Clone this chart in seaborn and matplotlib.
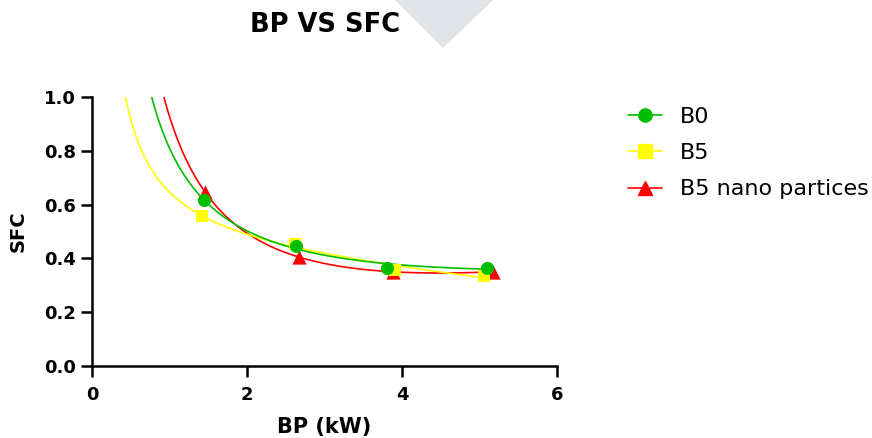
import matplotlib

matplotlib.use("Agg")
import matplotlib.pyplot as plt
import numpy as np
import pandas as pd
import seaborn as sns
from matplotlib.lines import Line2D
from matplotlib.patches import Polygon

# values
series_names = ["B0", "B5", "B5 nano partices"]
bp_b0 = [1.44, 2.63, 3.81, 5.10]
sfc_b0 = [0.617, 0.446, 0.366, 0.366]
bp_b5 = [1.42, 2.62, 3.91, 5.06]
sfc_b5 = [0.556, 0.454, 0.356, 0.336]
bp_nano = [1.46, 2.67, 3.89, 5.17]
sfc_nano = [0.646, 0.405, 0.350, 0.350]

COLORS = {"B0": "#00BE00", "B5": "#FFFF00", "B5 nano partices": "#FF0000"}
MARKERS = {"B0": "o", "B5": "s", "B5 nano partices": "^"}
SIZES = {"B0": 90, "B5": 85, "B5 nano partices": 105}
ZORDER = {"B0": 6, "B5": 5, "B5 nano partices": 4}


def fit_curve(x, y, x_new):
    # least squares fit y = a + b/x + c*x
    x = np.asarray(x)
    A = np.column_stack([np.ones_like(x), 1 / x, x])
    coef = np.linalg.lstsq(A, np.asarray(y), rcond=None)[0]
    return coef[0] + coef[1] / x_new + coef[2] * x_new


points = pd.concat(
    [
        pd.DataFrame({"BP": bp_b0, "SFC": sfc_b0, "fuel": "B0"}),
        pd.DataFrame({"BP": bp_b5, "SFC": sfc_b5, "fuel": "B5"}),
        pd.DataFrame({"BP": bp_nano, "SFC": sfc_nano, "fuel": "B5 nano partices"}),
    ],
    ignore_index=True,
)

sns.set_style("ticks", rc={"axes.edgecolor": "black", "xtick.color": "black",
                           "ytick.color": "black", "text.color": "black",
                           "axes.labelcolor": "black"})
plt.rcParams["font.family"] = ["DejaVu Sans"]

fig = plt.figure(figsize=(8.72, 4.38), dpi=100)
ax = fig.add_axes([92 / 872, 1 - 366 / 438, 465 / 872, 269 / 438])

for name in series_names:
    sub = points[points["fuel"] == name]
    xs = np.linspace(0.1, sub["BP"].max(), 400)
    curve = pd.DataFrame({"BP": xs, "SFC": fit_curve(sub["BP"], sub["SFC"], xs)})
    sns.lineplot(data=curve, x="BP", y="SFC", color=COLORS[name], linewidth=1.2,
                 ax=ax, zorder=ZORDER[name] - 3)
    sns.scatterplot(data=sub, x="BP", y="SFC", color=COLORS[name], marker=MARKERS[name],
                    s=SIZES[name], linewidth=0, ax=ax, zorder=ZORDER[name], clip_on=False)

ax.set_xlim(0, 6)
ax.set_ylim(0, 1.0)
ax.set_xticks([0, 2, 4, 6])
ax.set_yticks([0.0, 0.2, 0.4, 0.6, 0.8, 1.0])
ax.set_yticklabels([f"{v:.1f}" for v in ax.get_yticks()])
sns.despine(ax=ax)
for side in ["left", "bottom"]:
    ax.spines[side].set_linewidth(1.8)
ax.tick_params(axis="both", direction="out", length=8, width=1.8, labelsize=13,
               colors="black")
ax.tick_params(axis="y", pad=3.5)
ax.tick_params(axis="x", pad=6.5)
for lab in ax.get_xticklabels() + ax.get_yticklabels():
    lab.set_fontweight("bold")

ax.set_xlabel("BP (kW)", fontsize=15, fontweight="bold", color="black")
ax.set_ylabel("SFC", fontsize=14, fontweight="bold", color="black")
ax.xaxis.set_label_coords(0.5, -0.19)
ax.yaxis.set_label_coords(-0.138, 0.5)

fig.text(325.5 / 872, 1 - 32 / 438, "BP VS SFC", fontsize=18.5, fontweight="bold",
         color="black", ha="center", va="baseline")

# faint watermark chevron at the top
fig.patches.append(Polygon([[395 / 872, 1.0], [443 / 872, 1 - 48 / 438], [493 / 872, 1.0]],
                           closed=True, transform=fig.transFigure, facecolor="#E0E4E9",
                           edgecolor="none", zorder=0))

handles = [
    Line2D([], [], color=COLORS[n], marker=MARKERS[n],
           markersize=9.5 if n != "B5 nano partices" else 10, linewidth=1.2)
    for n in series_names
]
fig.legend(handles, series_names, loc="upper left", bbox_to_anchor=(628 / 872, 1 - 107 / 438),
           frameon=False, fontsize=16, handlelength=1.53, handletextpad=0.8, labelspacing=0.73,
           borderpad=0, borderaxespad=0, labelcolor="black")

fig.savefig("out.png", dpi=100)
